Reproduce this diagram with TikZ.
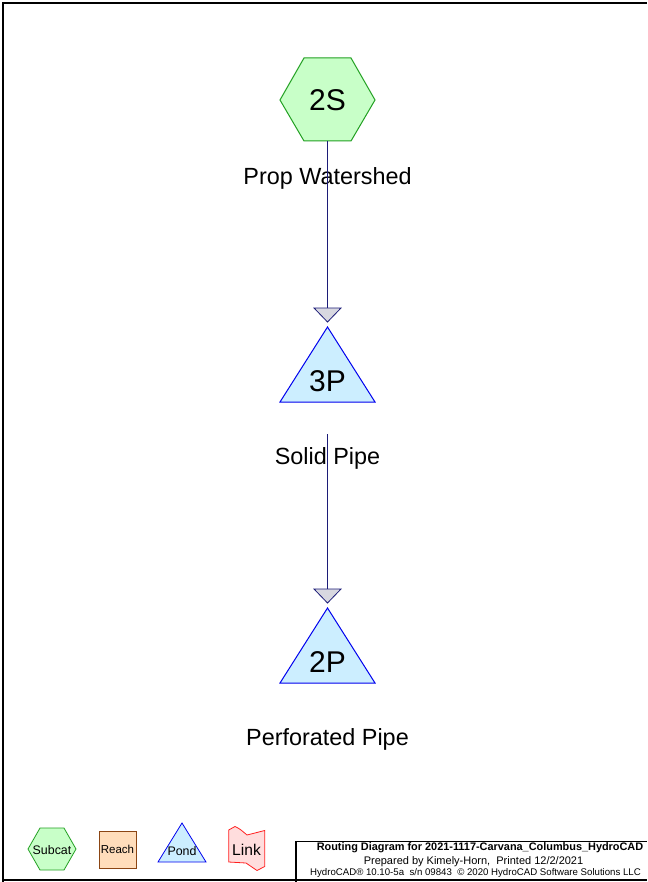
\documentclass[tikz,border=0pt]{standalone}
\usepackage{fontspec}
\setmainfont{Liberation Sans}
\usetikzlibrary{shapes.geometric,calc}
\definecolor{subfill}{HTML}{C8FFC8}
\definecolor{subdraw}{HTML}{22A022}
\definecolor{pondfill}{HTML}{CCEEFF}
\definecolor{ponddraw}{HTML}{0000EE}
\definecolor{reachfill}{HTML}{FFDDBB}
\definecolor{reachdraw}{HTML}{8B4513}
\definecolor{linkfill}{HTML}{FFDDDD}
\definecolor{linkdraw}{HTML}{FF2020}
\definecolor{wire}{HTML}{1C1C78}
\definecolor{tipfill}{HTML}{D8D8E0}
\tikzset{
  fs/.style={font=\fontsize{#1}{#1}\selectfont},
  flowline/.style={draw=wire, line width=1.2pt},
  tipshape/.style={fill=tipfill, draw=wire, line width=0.8pt, line join=miter},
  hexshape/.style={fill=subfill, draw=subdraw, line width=1pt},
  pondshape/.style={fill=pondfill, draw=ponddraw, line width=1pt},
}
\begin{document}
\begin{tikzpicture}[x=1pt,y=-1pt]
\useasboundingbox (0,0) rectangle (647,882);
\fill[white] (0,0) rectangle (647,882);
% frame
\draw[line width=2.2pt] (3,882) -- (3,3) -- (647,3);
\draw[line width=2.2pt] (3,880) -- (647,880);

% 2S hexagon
\draw[hexshape] (280,100) -- (304,58) -- (351,58) -- (375,100) -- (351,141) -- (304,141) -- cycle;
\node[fs=30] (s2) at (327.5,100) {2S};
\node[fs=23.4] (s2lbl) at (327.5,178) {Prop Watershed};
\coordinate (s2out) at (327.5,141);

% 3P triangle
\coordinate (p3tip) at (327.5,322);
\draw[pondshape] (327.5,327) -- (375,402) -- (280,402) -- cycle;
\node[fs=30] (p3) at (327.5,381) {3P};
\node[fs=23.4] (p3lbl) at (327.5,458) {Solid Pipe};
\coordinate (p3out) at (327.5,434);

% 2P triangle
\coordinate (p2tip) at (327.5,603);
\draw[pondshape] (327.5,608) -- (375,683) -- (280,683) -- cycle;
\node[fs=30] (p2) at (327.5,662) {2P};
\node[fs=23.4] (p2lbl) at (327.5,739) {Perforated Pipe};

% connectors
\draw[flowline] (s2out) -- ($(p3tip)+(0,-14)$);
\draw[tipshape] ($(p3tip)+(-13.5,-14)$) -- ($(p3tip)+(13.5,-14)$) -- (p3tip) -- cycle;
\draw[flowline] (p3out) -- ($(p2tip)+(0,-14)$);
\draw[tipshape] ($(p2tip)+(-13.5,-14)$) -- ($(p2tip)+(13.5,-14)$) -- (p2tip) -- cycle;

% legend
\draw[hexshape, line width=0.8pt] (28,849) -- (40,828) -- (64,828) -- (76,849) -- (64,870) -- (40,870) -- cycle;
\node[fs=12.4] (lgsub) at (52,850) {Subcat};
\draw[fill=reachfill, draw=reachdraw, line width=0.8pt] (99,831) rectangle (136,868);
\node[fs=11.5] (lgreach) at (117.5,849) {Reach};
\draw[pondshape, line width=0.8pt] (182,823) -- (206,862) -- (158,862) -- cycle;
\node[fs=12.4] (lgpond) at (182,851) {Pond};
\draw[fill=linkfill, draw=linkdraw, line width=0.8pt]
  (228.7,830) -- (235,826.5) .. controls (240,829) .. (247,835)
  .. controls (255,833) .. (264.7,830.5) -- (264.7,866.5)
  -- (257,870.5) .. controls (252,867) .. (246,863)
  .. controls (238,863) .. (228.7,862) -- cycle;
\node[fs=15.6] (lglink) at (246.5,850) {Link};

% title box
\draw[line width=1.6pt] (296,882) -- (296,841.5) -- (647,841.5);
\node[font=\bfseries\fontsize{10.9}{10.9}\selectfont] (t1) at (480,847.5) {Routing Diagram for 2021-1117-Carvana\_Columbus\_HydroCAD};
\node[fs=11] (t2) at (473.5,861.5) {Prepared by Kimely-Horn,\ \ Printed 12/2/2021};
\node[fs=9.65] (t3) at (475.5,873) {HydroCAD® 10.10-5a\ \ s/n 09843\ \ © 2020 HydroCAD Software Solutions LLC};
\end{tikzpicture}
\end{document}
